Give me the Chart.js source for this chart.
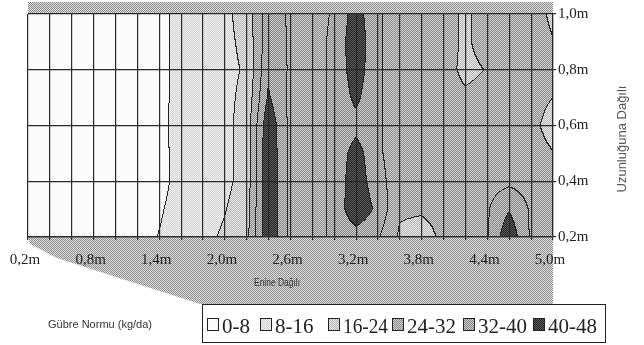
<!DOCTYPE html>
<html><head><meta charset="utf-8">
<script src="https://cdn.jsdelivr.net/npm/chart.js@4"></script>
<style>html,body{margin:0;padding:0;background:#fff;}#wrap{width:644px;height:345px;}</style>
</head><body><div id="wrap"><canvas id="c" width="644" height="345"></canvas></div>
<script>
// ---- DATA ----
const xPositions = [0.2,0.4,0.6,0.8,1.0,1.2,1.4,1.6,1.8,2.0,2.2,2.4,2.6,2.8,3.0,3.2,3.4,3.6,3.8,4.0,4.2,4.4,4.6,4.8,5.0];
const yPositions = [0.2,0.3,0.4,0.5,0.6,0.7,0.8,0.9,1.0];
const xTickLabels = ['0,2m','0,8m','1,4m','2,0m','2,6m','3,2m','3,8m','4,4m','5,0m'];
const yTickLabels = ['0,2m','0,4m','0,6m','0,8m','1,0m'];
const bandLabels = ['0-8','8-16','16-24','24-32','32-40','40-48'];
const bandEdges = [0,8,16,24,32,40,48];
const xTitle = 'Enine Dağılı';
const yTitle = 'Uzunluğuna Dağılı';
const legendTitle = 'Gübre Normu (kg/da)';
// fertilizer rate (kg/da) along each row, one value per xPositions entry
const rateY02 = [2,2.5,3,3.5,4,5.2, 8.2,11,14,17,21, 47,30,30,33,36,33,23,21,25.5,26,31,46,31,28];
const rateY03 = [2,2.5,3,3.5,4,5, 7.2,10.5,13,15.6,20, 47,30,30,33,47,38,25,25,26,27,31,39.5,31,28];
const rateY04 = [2,2.5,3,3.5,4,5, 6,10,12,14,19, 47,30,30,33,46,34,29,29,29,28,29,30,29,27];
const rateY05 = [2,2.5,3,3.5,4,5, 6.2,10,12,14,19, 47,30,30,33,44,33,29,29,29,28,29,29,28,24.5];
const rateY06 = [2,2.5,3,3.5,4,5, 6.4,10,12,14,19, 46,30,30,33,37,33,29,29,29,28,29,29,27,20];
const rateY07 = [2,2.5,3,3.5,4,5, 6.2,10,12,14,18, 41,30,30,33,42,33,29,29,29,26,28,29,28,24];
const rateY08 = [2,2.5,3,3.5,4,5, 6,10,12,14,16.8, 38.5,31,30,33,45,33,29,29,29,21,24.5,29,29,26];
const rateY09 = [2,2.5,3,3.5,4,5, 6,10,12,14,18, 37,31,30,33,46,33,29,29,29,22,29,29,29,24.5];
const rateY10 = [2,2.5,3,3.5,4,5, 6,10,12,14,19.5, 36,31,30,32.5,44,33,29,29,29,22,29,29,29,22];
const rateRows = [rateY02,rateY03,rateY04,rateY05,rateY06,rateY07,rateY08,rateY09,rateY10];

// ---- STYLE ----
const bandPix = [
  [[255,255,255],[247,247,247]],
  [[242,242,242],[210,210,210]],
  [[232,232,232],[182,182,182]],
  [[214,214,214],[132,132,132]],
  [[208,208,208],[128,128,128]],
  [[92,92,92],[38,38,38]]
];
function bandOf(v){ for(let k=bandEdges.length-2;k>=0;k--){ if(v>=bandEdges[k]) return k; } return 0; }
function rateAt(xv,yv){
  const nx=xPositions.length, ny=yPositions.length;
  let fi=(xv-xPositions[0])/(xPositions[nx-1]-xPositions[0])*(nx-1);
  let fj=(yv-yPositions[0])/(yPositions[ny-1]-yPositions[0])*(ny-1);
  fi=Math.max(0,Math.min(nx-1.0001,fi)); fj=Math.max(0,Math.min(ny-1.0001,fj));
  const i=Math.floor(fi), j=Math.floor(fj), a=fi-i, b=fj-j;
  const r0=rateRows[j], r1=rateRows[j+1];
  return (r0[i]*(1-a)+r0[i+1]*a)*(1-b)+(r1[i]*(1-a)+r1[i+1]*a)*b;
}
function stipple(ctx,c1,c2){
  const p=document.createElement('canvas'); p.width=2; p.height=2;
  const g=p.getContext('2d'); g.fillStyle=c1; g.fillRect(0,0,2,2);
  g.fillStyle=c2; g.fillRect(0,0,1,1); g.fillRect(1,1,1,1);
  return ctx.createPattern(p,'repeat');
}
const rgb=c=>'rgb('+c.join(',')+')';

const contourPlugin = {
  id:'contour',
  beforeDraw(chart){
    const ctx=chart.ctx, xs=chart.scales.x, ys=chart.scales.y, ca=chart.chartArea;
    ctx.save();
    ctx.fillStyle=stipple(ctx,'#e2e2e2','#8a8a8a');
    ctx.fillRect(ca.left,2,ca.right-ca.left,ca.top-2);
    ctx.beginPath();
    ctx.moveTo(ca.left,ca.bottom); ctx.lineTo(ca.right,ca.bottom); ctx.lineTo(ca.right,304);
    ctx.lineTo(200,304); ctx.lineTo(57,258); ctx.lineTo(30,244); ctx.closePath(); ctx.fill();
    ctx.restore();
    const L=Math.round(ca.left), T=Math.round(ca.top), W=Math.round(ca.right)-L, H=Math.round(ca.bottom)-T;
    const off=document.createElement('canvas'); off.width=W; off.height=H;
    const octx=off.getContext('2d'); const img=octx.createImageData(W,H); const d=img.data;
    const band=new Int8Array(W*H);
    for(let py=0;py<H;py++){
      const yv=ys.getValueForPixel(T+py+0.5);
      for(let px=0;px<W;px++){
        const xv=xs.getValueForPixel(L+px+0.5);
        band[py*W+px]=bandOf(rateAt(xv,yv));
      }
    }
    for(let py=0;py<H;py++){
      for(let px=0;px<W;px++){
        const k=py*W+px, b=band[k];
        let c=bandPix[b][(px+py)%2];
        if((px<W-1&&band[k+1]!==b)||(py<H-1&&band[k+W]!==b)) c=[35,35,35];
        d[k*4]=c[0]; d[k*4+1]=c[1]; d[k*4+2]=c[2]; d[k*4+3]=255;
      }
    }
    octx.putImageData(img,0,0);
    ctx.drawImage(off,L,T);
  },
  afterDraw(chart){
    const ctx=chart.ctx;
    ctx.save();
    ctx.fillStyle='#333'; ctx.textAlign='center'; ctx.textBaseline='middle';
    ctx.font='10px "Liberation Sans Narrow", "Liberation Sans", sans-serif';
    ctx.fillText(xTitle,277,283,46);
    ctx.font='11px "Liberation Sans Narrow", "Liberation Sans", sans-serif';
    ctx.fillText(legendTitle,100,325,115);
    ctx.save(); ctx.translate(622,139); ctx.rotate(-Math.PI/2);
    ctx.fillStyle='#555'; ctx.font='13px "Liberation Sans", sans-serif';
    ctx.fillText(yTitle,0,0,128); ctx.restore();
    // legend
    ctx.strokeStyle='#222'; ctx.lineWidth=1;
    ctx.fillStyle='#fff'; ctx.fillRect(202,304,403,39);
    ctx.strokeRect(202.5,304.5,403,38);
    const sx=[207,260,328,392,463,533];
    ctx.textAlign='left'; ctx.textBaseline='alphabetic';
    for(let i=0;i<bandLabels.length;i++){
      ctx.fillStyle=stipple(ctx,rgb(bandPix[i][0]),rgb(bandPix[i][1]));
      ctx.fillRect(sx[i],318,12,13);
      ctx.strokeStyle='#222'; ctx.strokeRect(sx[i]+0.5,318.5,11,12);
      ctx.fillStyle='#222'; ctx.font='21px "Liberation Serif", serif';
      const tx=sx[i]+15, nxt=(i<sx.length-1?sx[i+1]:603);
      ctx.fillText(bandLabels[i],tx,333,nxt-tx-4);
    }
    ctx.restore();
  }
};

new Chart(document.getElementById('c'),{
  type:'scatter',
  data:{datasets:[{data:[],showLine:false}]},
  options:{
    responsive:false, animation:false, devicePixelRatio:1,
    layout:{padding:{left:28,top:14,right:0,bottom:0}},
    plugins:{legend:{display:false},tooltip:{enabled:false}},
    scales:{
      x:{type:'linear',position:'bottom',min:xPositions[0],max:xPositions[xPositions.length-1],
        afterBuildTicks:s=>{s.ticks=xPositions.map(v=>({value:v}));},
        afterFit:s=>{s.height=108;},
        grid:{color:'#2a2a2a',lineWidth:1.2,tickLength:3,drawOnChartArea:true},
        border:{display:true,color:'#2a2a2a',width:1.2},
        ticks:{autoSkip:false,maxRotation:0,minRotation:0,padding:11,color:'#222',labelOffset:-3,
          font:{family:'"Liberation Serif", serif',size:15},
          callback:(v,i)=> (i%3===0? xTickLabels[i/3] : '')}
      },
      y:{type:'linear',position:'right',min:yPositions[0],max:yPositions[yPositions.length-1],
        afterBuildTicks:s=>{s.ticks=yTickLabels.map((t,i)=>({value:yPositions[0]+i*0.2}));},
        afterFit:s=>{s.width=91;},
        grid:{color:'#2a2a2a',lineWidth:1.2,tickLength:3},
        border:{display:true,color:'#2a2a2a',width:1.2},
        ticks:{padding:2,color:'#222',font:{family:'"Liberation Serif", serif',size:15},
          callback:(v,i)=>yTickLabels[i]}
      }
    }
  },
  plugins:[contourPlugin]
});
</script></body></html>
